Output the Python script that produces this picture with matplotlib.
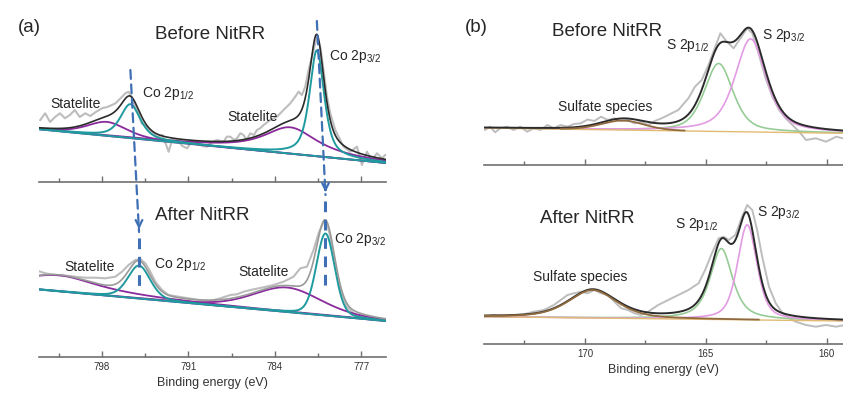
import numpy as np
import matplotlib
matplotlib.use("Agg")
import matplotlib.pyplot as plt
from matplotlib.patches import ConnectionPatch

plt.rcParams['font.family'] = ['Liberation Sans', 'DejaVu Sans']
plt.rcParams['mathtext.default'] = 'regular'

# ---------------- panel (a): Co 2p ----------------
co_xlim = (803.1, 775.0)
co_major = [798, 791, 784, 777]
co_minor = [801.5, 794.5, 787.5, 780.5]

# linear background, intensity at left / right edge of the axis
co_before_bg = [52.7, 19.0]
co_after_bg = [67.5, 36.0]

# fitted peaks: centre (eV), height, FWHM (eV), lorentzian fraction
co_before_main = [(795.7, 34.0, 1.9, 0.6), (780.6, 106.0, 1.4, 0.65)]
co_before_sat = [(797.6, 14.0, 3.8, 0.5), (782.75, 26.4, 5.2, 0.9)]
co_after_main = [(795.0, 33.0, 2.15, 0.3), (779.9, 82.0, 1.75, 0.2)]
co_after_sat = [(801.5, 16.0, 8.0, 1.0), (783.0, 24.5, 6.5, 0.3)]

# raw spectra
co_before_e = [803.0, 802.6, 802.2, 801.8, 801.4, 801.0, 800.6, 800.2, 799.8, 799.35,
               798.95, 798.5, 798.0, 797.5, 796.9, 796.5, 796.1, 795.85, 795.6, 795.3,
               795.0, 794.8, 794.35, 793.95, 793.55, 793.1, 792.6, 792.3, 791.9, 791.5,
               791.1, 790.7, 790.3, 789.9, 789.5, 789.1, 788.7, 788.15, 787.9, 787.61,
               787.3, 787.07, 786.8, 786.53, 786.3, 785.99, 785.7, 785.45, 785.2, 784.91,
               784.37, 783.83, 783.3, 782.75, 782.35, 782.08, 781.81, 781.54, 781.27, 781.0,
               780.73, 780.59, 780.32, 780.06, 779.78, 779.51, 779.11, 778.7, 778.44, 777.89,
               777.35, 776.95, 776.54, 776.14, 775.73, 775.33, 775.06]
co_before_i = [62, 68.7, 60, 65, 68.7, 63.7, 67, 72, 65, 68.7,
               66, 70, 73.7, 75.3, 78.7, 83.7, 88.7, 90.3, 85.3, 75.3,
               67, 58.7, 55.3, 50.3, 45.3, 47, 30.3, 43, 42, 36,
               33.7, 41, 40.3, 36, 35.3, 40, 42, 40.3, 45.3, 45.3,
               42, 43.7, 48.7, 47, 42, 48.7, 47, 52, 53.7, 57,
               62, 65.3, 72, 78.7, 85.3, 90.3, 87, 95.3, 112, 125.3,
               138.7, 144.7, 135.3, 112, 85.3, 68.7, 52, 42, 35.3, 30.3,
               35.3, 17, 30.3, 22, 28.7, 23.7, 27]

co_after_e = [803.4, 802.59, 801.78, 800.97, 800.16, 799.35, 798.54, 797.73, 796.92, 796.38,
              795.85, 795.3, 794.9, 794.49, 794.09, 793.68, 793.14, 792.61, 791.8, 790.99,
              790.18, 789.3, 788.42, 787.61, 787.07, 786.53, 785.72, 784.91, 784.11, 783.3,
              782.49, 781.94, 781.4, 780.87, 780.46, 780.06, 779.78, 779.51, 779.11, 778.7,
              778.16, 777.63, 776.82, 776.01, 775.2]
co_after_i = [87, 83.7, 82, 81.3, 80.3, 79.3, 79.3, 78.7, 80.3, 85.3,
              92, 97, 98, 93.7, 85.3, 75.3, 67, 62, 60.3, 58.7,
              57, 56, 58.7, 62, 62.7, 65.3, 67.7, 69.7, 72, 75.3,
              80.3, 88.7, 90.3, 107, 123.7, 135.3, 133.7, 120.3, 90.3, 67,
              50.3, 43.7, 38.7, 37, 36.3]

# ---------------- panel (b): S 2p ----------------
s_xlim = (174.17, 159.33)
s_major = [170, 165, 160]
s_minor = [172.5, 167.5, 162.5]

s_before_bg = [37.0, 31.7]
s_after_bg = [27.3, 23.0]

# sulfate, S 2p1/2, S 2p3/2
s_before_peaks = [(168.43, 9.5, 2.1, 0.2), (164.47, 68.0, 1.4, 0.5), (163.15, 93.0, 1.53, 0.6)]
s_after_peaks = [(169.68, 28.0, 2.36, 0.5), (164.36, 71.0, 1.1, 0.7), (163.29, 95.0, 0.95, 0.5)]

s_before_e = [174.13, 173.92, 173.71, 173.5, 173.22, 172.95, 172.67, 172.39, 172.11, 171.83,
              171.55, 171.28, 171.0, 170.72, 170.45, 170.17, 169.89, 169.61, 169.33, 169.05,
              168.78, 168.5, 168.22, 167.95, 167.67, 167.39, 167.11, 166.83, 166.14, 165.72,
              165.45, 165.17, 164.89, 164.61, 164.4, 164.13, 163.85, 163.57, 163.29, 163.08,
              162.8, 162.53, 162.25, 161.97, 161.7, 161.42, 161.14, 160.86, 160.45, 160.03,
              159.61, 159.33]
s_before_i = [35, 38.3, 32.7, 36.7, 38.3, 35, 38.3, 33.3, 36.7, 35,
              40, 36.7, 40, 38.3, 41, 41.7, 45.5, 44, 48.3, 45,
              46.7, 44, 45, 41.7, 43.3, 40, 44, 46.7, 55, 66.7,
              78.3, 85, 100, 118.3, 131.7, 123.3, 116.7, 126.7, 136.7, 131.7,
              110, 86.7, 68.3, 55, 46.7, 40, 33.3, 25, 26.7, 23.3,
              28.3, 26.7]

s_after_e = [174.13, 173.78, 173.36, 172.95, 172.53, 172.11, 171.7, 171.28, 171.0, 170.72,
             170.45, 170.17, 169.89, 169.61, 169.33, 169.05, 168.78, 168.5, 168.22, 167.95,
             167.67, 167.39, 166.97, 166.28, 165.72, 165.3, 165.03, 164.75, 164.47, 164.26,
             164.05, 163.78, 163.5, 163.29, 163.08, 162.88, 162.67, 162.39, 162.11, 161.83,
             161.55, 161.28, 160.86, 160.45, 160.03, 159.61, 159.26]
s_after_i = [27.3, 29, 27.3, 29, 29.7, 32.3, 34, 39, 44, 49,
             50.7, 52.3, 50.7, 54, 50.7, 49, 42.3, 35.7, 34, 30.7,
             29, 32.3, 39, 47.3, 54, 60.7, 74, 90.7, 105.7, 107.3,
             104, 109, 127.3, 139, 134, 114, 87.3, 57.3, 40.7, 30.7,
             25.7, 22.3, 19, 17.3, 19, 17.3, 19]

# colours
RAW = '#bdbdbd'
ENV = '#2b2b2b'
TEAL = '#1f9a9e'
PURPLE = '#8a2a9c'
GREEN = '#96cc96'
PINK = '#e39be3'
BROWN = '#8f6a3e'
BGLINE = '#e2bb72'
ARROW = '#3f6fb5'
TXT = '#262626'


def pv(e, peak):
    c, h, w, eta = peak
    g = np.exp(-4 * np.log(2) * ((e - c) / w) ** 2)
    l = 1.0 / (1.0 + 4 * ((e - c) / w) ** 2)
    return h * (eta * l + (1 - eta) * g)


def background(e, xlim, bg):
    return np.interp(e, [xlim[1], xlim[0]], [bg[1], bg[0]])


def style_axis(ax, xlim, major, minor, labels):
    ax.set_xlim(*xlim)
    for s in ['left', 'right', 'top']:
        ax.spines[s].set_visible(False)
    ax.spines['bottom'].set_color('#707070')
    ax.spines['bottom'].set_linewidth(1.2)
    ax.set_yticks([])
    ax.set_xticks(major)
    ax.set_xticks(minor, minor=True)
    ax.tick_params(axis='x', which='both', direction='in', colors='#707070',
                   labelcolor='#333333', labelsize=7, width=1)
    ax.tick_params(axis='x', which='major', length=4)
    ax.tick_params(axis='x', which='minor', length=3)
    if not labels:
        ax.tick_params(axis='x', labelbottom=False)
    ax.patch.set_alpha(0)


fig = plt.figure(figsize=(8.43, 3.94), dpi=100)
W, H = 843.0, 394.0


def add_ax(x0, x1, ybot, ytop):
    return fig.add_axes([x0 / W, (H - ybot) / H, (x1 - x0) / W, (ybot - ytop) / H])


ax_a1 = add_ax(39, 386, 182, 30)
ax_a2 = add_ax(39, 386, 357, 205)
ax_b1 = add_ax(484, 843, 165, 15)
ax_b2 = add_ax(484, 843, 344, 194)
for ax in (ax_a1, ax_a2):
    ax.set_ylim(0, 152)
for ax in (ax_b1, ax_b2):
    ax.set_ylim(0, 150)

# ---- Co 2p curves ----
e_co = np.linspace(co_xlim[0], co_xlim[1], 900)
for ax, bg, main, sat, re, ri, env_col in [
        (ax_a1, co_before_bg, co_before_main, co_before_sat, co_before_e, co_before_i, ENV),
        (ax_a2, co_after_bg, co_after_main, co_after_sat, co_after_e, co_after_i, '#9a9a9a')]:
    base = background(e_co, co_xlim, bg)
    ax.plot(re, ri, color=RAW, lw=1.5, zorder=1)
    ax.plot(e_co, base, color=PURPLE, lw=1.3, zorder=2)
    total = base.copy()
    for p in sat:
        comp = pv(e_co, p)
        total += comp
        ax.plot(e_co, base + comp, color=PURPLE, lw=1.3, zorder=3)
    for p in main:
        comp = pv(e_co, p)
        total += comp
        ax.plot(e_co, base + comp, color=TEAL, lw=1.4, zorder=4)
    ax.plot(e_co, total, color=env_col, lw=1.2, zorder=5)
    style_axis(ax, co_xlim, co_major, co_minor, ax is ax_a2)

ax_a2.set_xlabel('Binding energy (eV)', fontsize=9, color='#333333', labelpad=4)

ax_a1.text(789.23, 142.7, 'Before NitRR', fontsize=13.5, ha='center', va='baseline', color=TXT)
ax_a1.text(800.12, 73.7, 'Statelite', fontsize=10, ha='center', va='baseline', color=TXT)
ax_a1.text(794.76, 85.3, 'Co 2p$_{1/2}$', fontsize=10, ha='left', va='baseline', color=TXT)
ax_a1.text(785.79, 61, 'Statelite', fontsize=10, ha='center', va='baseline', color=TXT)
ax_a1.text(779.65, 122, 'Co 2p$_{3/2}$', fontsize=10, ha='left', va='baseline', color=TXT)

ax_a2.text(789.9, 137, 'After NitRR', fontsize=13.5, ha='center', va='baseline', color=TXT)
ax_a2.text(799.03, 86, 'Statelite', fontsize=10, ha='center', va='baseline', color=TXT)
ax_a2.text(793.82, 88.7, 'Co 2p$_{1/2}$', fontsize=10, ha='left', va='baseline', color=TXT)
ax_a2.text(784.88, 81, 'Statelite', fontsize=10, ha='center', va='baseline', color=TXT)
ax_a2.text(779.25, 113.7, 'Co 2p$_{3/2}$', fontsize=10, ha='left', va='baseline', color=TXT)

# dashed shift arrows between the before / after peak positions
shift_start = [(co_before_main[0][0], 112), (co_before_main[1][0], 161)]
shift_end = [(co_after_main[0][0], 125), (co_after_main[1][0], 162)]
for (e0, i0), (e1, i1) in zip(shift_start, shift_end):
    con = ConnectionPatch(xyA=(e0, i0), coordsA=ax_a1.transData,
                          xyB=(e1, i1), coordsB=ax_a2.transData,
                          arrowstyle='-', color=ARROW, lw=1.6, linestyle=(0, (4, 2.5)))
    fig.add_artist(con)
    ax_a2.annotate('', xy=(e1, i1), xytext=(e1, i1 + 9),
                   arrowprops=dict(arrowstyle='->', color=ARROW, lw=1.6, mutation_scale=12),
                   annotation_clip=False)
    ax_a2.plot([e1, e1], [i1 - 6, 70], color=ARROW, lw=2.2, linestyle=(0, (3.5, 2.5)),
               zorder=6, clip_on=False)

# ---- S 2p curves ----
e_s = np.linspace(s_xlim[0], s_xlim[1], 900)
for ax, bg, peaks, re, ri in [(ax_b1, s_before_bg, s_before_peaks, s_before_e, s_before_i),
                              (ax_b2, s_after_bg, s_after_peaks, s_after_e, s_after_i)]:
    base = background(e_s, s_xlim, bg)
    ax.plot(re, ri, color=RAW, lw=1.4, zorder=1)
    total = base.copy()
    for k, (p, col) in enumerate(zip(peaks, [BROWN, GREEN, PINK])):
        comp = pv(e_s, p)
        total += comp
        if k == 0:
            # sulfate trace drawn over the envelope, only where it departs from the background
            ax.plot(e_s, np.where(comp > 0.4, base + comp, np.nan), color=col, lw=1.3, zorder=6)
        else:
            ax.plot(e_s, base + comp, color=col, lw=1.2, zorder=3)
    ax.plot(e_s, base, color=BGLINE, lw=1.0, zorder=4)
    ax.plot(e_s, total, color=ENV, lw=1.4, zorder=5)
    style_axis(ax, s_xlim, s_major, s_minor, ax is ax_b2)

ax_b2.set_xlabel('Binding energy (eV)', fontsize=9, color='#333333', labelpad=4)

ax_b1.text(169.08, 129, 'Before NitRR', fontsize=13.5, ha='center', va='baseline', color=TXT)
ax_b1.text(166.63, 115.7, 'S 2p$_{1/2}$', fontsize=10, ha='left', va='baseline', color=TXT)
ax_b1.text(162.67, 125.7, 'S 2p$_{3/2}$', fontsize=10, ha='left', va='baseline', color=TXT)
ax_b1.text(169.17, 54.3, 'Sulfate species', fontsize=10, ha='center', va='baseline', color=TXT)

ax_b2.text(169.92, 120.7, 'After NitRR', fontsize=13.5, ha='center', va='baseline', color=TXT)
ax_b2.text(166.28, 115.7, 'S 2p$_{1/2}$', fontsize=10, ha='left', va='baseline', color=TXT)
ax_b2.text(162.875, 128, 'S 2p$_{3/2}$', fontsize=10, ha='left', va='baseline', color=TXT)
ax_b2.text(170.2, 63.3, 'Sulfate species', fontsize=10, ha='center', va='baseline', color=TXT)

fig.text(29 / W, 1 - 27 / H, '(a)', fontsize=13.5, ha='center', va='center', color=TXT)
fig.text(476.7 / W, 1 - 27 / H, '(b)', fontsize=13.5, ha='center', va='center', color=TXT)

fig.savefig('out.png', dpi=100)
